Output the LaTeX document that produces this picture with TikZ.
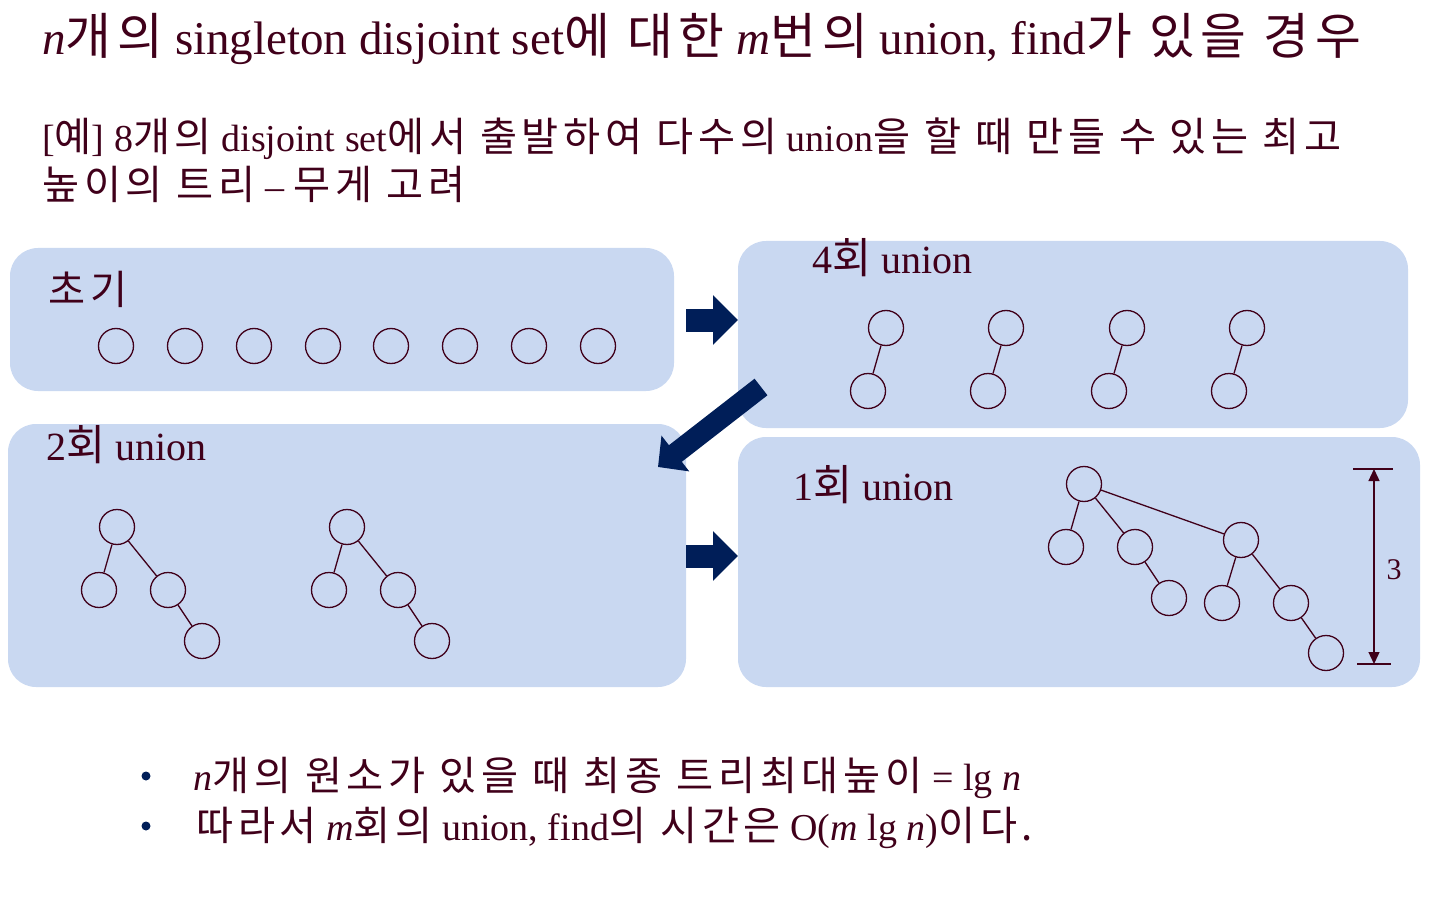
\documentclass[tikz,border=0pt]{standalone}
\usepackage{fontspec}
\setmainfont{Liberation Serif}
\newfontfamily\krf[Scale=1.06,LetterSpace=12]{Noto Sans CJK KR}
\newcommand\kr[1]{{\krf #1}}
\usetikzlibrary{arrows.meta}
\definecolor{txt}{RGB}{64,0,26}
\definecolor{boxfill}{RGB}{201,216,241}
\definecolor{navy}{RGB}{0,30,88}
\tikzset{
  panel/.style={fill=boxfill, rounded corners=28pt, inner sep=0pt},
  txtnode/.style={anchor=base west, inner sep=0pt, text=txt},
  vtx/.style={circle, draw=txt, line width=1.3pt, minimum size=35pt, inner sep=0pt},
  edge/.style={draw=txt, line width=1.3pt},
  bigarrow/.style={navy, line width=23pt, -{Triangle[width=48pt,length=25pt]}},
  bulletdot/.style={circle, fill=navy, minimum size=9pt, inner sep=0pt},
}
\begin{document}
\begin{tikzpicture}[x=1pt,y=-1pt]
\useasboundingbox (0,0) rectangle (1430,920);

% title
\node[txtnode, font=\fontsize{47}{50}\selectfont] (title) at (42,55)
  {\textit{n}\kr{개의} singleton disjoint set\kr{에 대한} \textit{m}\kr{번의} union, find\kr{가 있을 경우}};
\node[txtnode, font=\fontsize{38}{42}\selectfont] (sub1) at (42,152)
  {[\kr{예}] 8\kr{개의} disjoint set\kr{에서 출발하여 다수의} union\kr{을 할 때 만들 수 있는 최고}};
\node[txtnode, font=\fontsize{38}{42}\selectfont] (sub2) at (42,200)
  {\kr{높이의 트리} – \kr{무게 고려}};

% panels
\node[panel, minimum width=664pt, minimum height=143pt] (p1) at (342,319.5) {};
\node[panel, minimum width=670pt, minimum height=187pt] (p2) at (1073,334.5) {};
\node[panel, minimum width=678pt, minimum height=263pt] (p3) at (347,555.5) {};
\node[panel, minimum width=682pt, minimum height=250pt] (p4) at (1079,562) {};

% panel labels
\node[txtnode, font=\fontsize{38}{42}\selectfont] (l1) at (48,305) {\kr{초기}};
\node[txtnode, font=\fontsize{40}{42}\selectfont] (l2) at (812,273) {4\kr{회} union};
\node[txtnode, font=\fontsize{40}{42}\selectfont] (l3) at (46,460) {2\kr{회} union};
\node[txtnode, font=\fontsize{40}{42}\selectfont] (l4) at (793,500) {1\kr{회} union};

% initial singletons
\foreach \i/\x in {1/116,2/185,3/254,4/323,5/391,6/460,7/529,8/598}
  \node[vtx] (s\i) at (\x,346) {};

% 4 unions
\foreach \i/\x in {1/886,2/1006,3/1127,4/1247}{
  \node[vtx] (a\i) at (\x,328) {};
  \node[vtx] (b\i) at (\x-18,391) {};
  \draw[edge] (a\i) -- (b\i);
}

% 2 unions
\foreach \i/\x in {1/117,2/347}{
  \node[vtx] (r\i) at (\x,527) {};
  \node[vtx] (rl\i) at (\x-18,590) {};
  \node[vtx] (rr\i) at (\x+51,590) {};
  \node[vtx] (rrr\i) at (\x+85,641) {};
  \draw[edge] (r\i) -- (rl\i);
  \draw[edge] (r\i) -- (rr\i);
  \draw[edge] (rr\i) -- (rrr\i);
}

% 1 union
\node[vtx] (t0) at (1084,484) {};
\node[vtx] (t1) at (1066,547) {};
\node[vtx] (t2) at (1135,547) {};
\node[vtx] (t3) at (1241,540) {};
\node[vtx] (t4) at (1169,598) {};
\node[vtx] (t5) at (1222,603) {};
\node[vtx] (t6) at (1291,603) {};
\node[vtx] (t7) at (1326,653) {};
\draw[edge] (t0) -- (t1);
\draw[edge] (t0) -- (t2);
\draw[edge] (t0) -- (t3);
\draw[edge] (t2) -- (t4);
\draw[edge] (t3) -- (t5);
\draw[edge] (t3) -- (t6);
\draw[edge] (t6) -- (t7);

% height dimension
\coordinate (dtop) at (1374,469);
\coordinate (dbot) at (1374,664);
\draw[edge] (1353,469) -- (1393,469);
\draw[edge] (1357,664) -- (1391,664);
\draw[edge, {Triangle[width=11pt,length=12pt]}-{Triangle[width=11pt,length=12pt]}, fill=txt] (dtop) -- (dbot);
\node[text=txt, inner sep=0pt, font=\fontsize{30}{30}\selectfont] (dim) at (1394,570) {3};

% block arrows
\coordinate (a1s) at (686,320);
\coordinate (a1e) at (738,320);
\draw[bigarrow] (a1s) -- (a1e);
\coordinate (a2s) at (761,387);
\coordinate (a2e) at (658,467);
\draw[navy, line width=21pt, -{Triangle[width=44pt,length=22pt]}] (a2s) -- (a2e);
\coordinate (a3s) at (686,556);
\coordinate (a3e) at (738,556);
\draw[bigarrow] (a3s) -- (a3e);

% bullets
\node[bulletdot] (bu1) at (146,776) {};
\node[bulletdot] (bu2) at (146,826) {};
\node[txtnode, font=\fontsize{38}{42}\selectfont] (t1l) at (193,790)
  {\textit{n}\kr{개의 원소가 있을 때 최종 트리최대높이} = lg \textit{n}};
\node[txtnode, font=\fontsize{38}{42}\selectfont] (t2l) at (196,840)
  {\kr{따라서} \textit{m}\kr{회의} union, find\kr{의 시간은} O(\textit{m} lg \textit{n})\kr{이다.}};
\end{tikzpicture}
\end{document}
